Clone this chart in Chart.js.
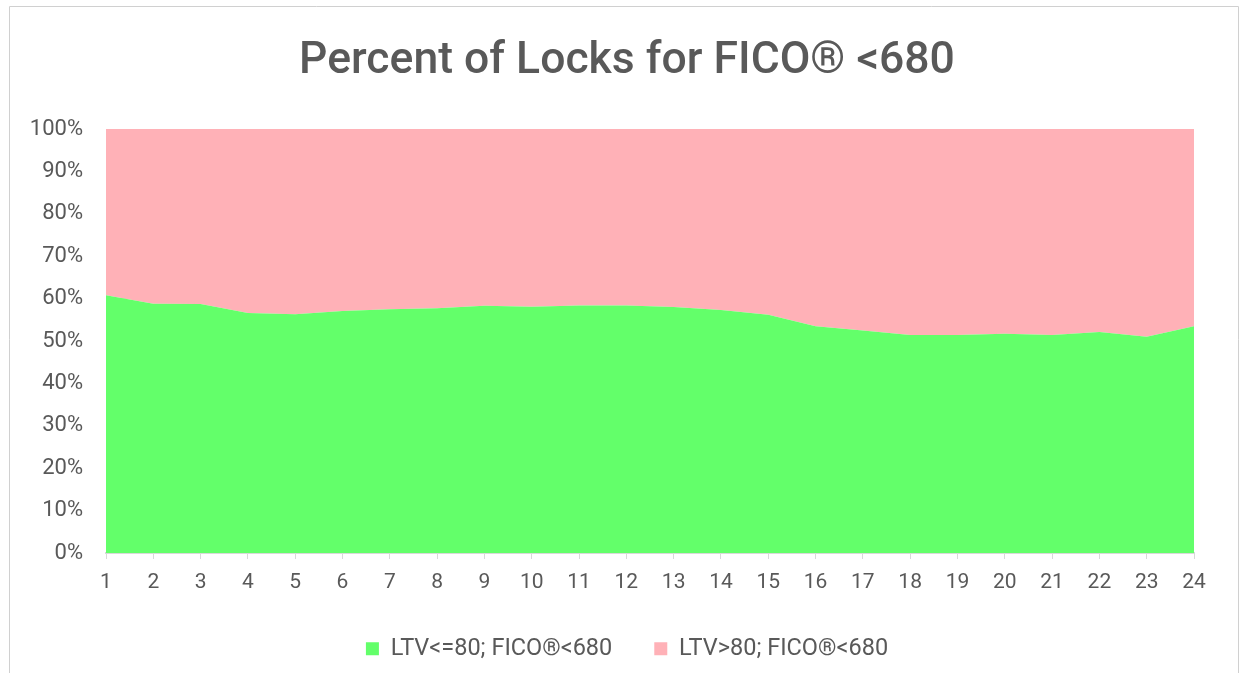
<!DOCTYPE html>
<html>
<head>
<meta charset="utf-8">
<script src="https://cdn.jsdelivr.net/npm/chart.js@4"></script>
<style>
html,body{margin:0;padding:0;background:#fff;}
#wrap{position:relative;width:1241px;height:673px;}
</style>
</head>
<body>
<div id="wrap"><canvas id="c" width="1241" height="673"></canvas></div>
<script>
const titleText = 'Percent of Locks for FICO® <680';
const categories = ['1','2','3','4','5','6','7','8','9','10','11','12','13','14','15','16','17','18','19','20','21','22','23','24'];
const seriesNames = ['LTV<=80; FICO®<680', 'LTV>80; FICO®<680'];
const ltvLow = [60.8, 58.8, 58.7, 56.6, 56.3, 57.1, 57.5, 57.7, 58.3, 58.1, 58.4, 58.4, 58.0, 57.3, 56.2, 53.5, 52.5, 51.4, 51.4, 51.7, 51.4, 52.1, 51.0, 53.5];
const ltvHigh = [39.2, 41.2, 41.3, 43.4, 43.7, 42.9, 42.5, 42.3, 41.7, 41.9, 41.6, 41.6, 42.0, 42.7, 43.8, 46.5, 47.5, 48.6, 48.6, 48.3, 48.6, 47.9, 49.0, 46.5];
const yTicks = [0,10,20,30,40,50,60,70,80,90,100];

const GREEN = '#63FF6A';
const PINK = '#FFB1B7';
const TEXT = '#595959';
const GRID = '#d9d9d9';

const borderPlugin = {
  id: 'frameBorder',
  beforeInit(chart) {
    const lg = chart.legend;
    if (lg && !lg._patched) {
      const orig = lg.fit;
      lg.fit = function() { orig.call(this); this.height = 78; };
      lg._patched = true;
    }
  },
  afterDraw(chart) {
    const ctx = chart.ctx;
    ctx.save();
    ctx.strokeStyle = '#d0d0d0';
    ctx.lineWidth = 1;
    ctx.beginPath();
    ctx.moveTo(9.5, 673);
    ctx.lineTo(9.5, 6.5);
    ctx.lineTo(1238.5, 6.5);
    ctx.lineTo(1238.5, 673);
    ctx.stroke();
    ctx.restore();
  }
};

new Chart(document.getElementById('c'), {
  type: 'line',
  data: {
    labels: categories,
    datasets: [
      { label: seriesNames[0], data: ltvLow, backgroundColor: GREEN, borderColor: GREEN, borderWidth: 0, fill: 'origin', pointRadius: 0, tension: 0 },
      { label: seriesNames[1], data: ltvHigh, backgroundColor: PINK, borderColor: PINK, borderWidth: 0, fill: '-1', pointRadius: 0, tension: 0 }
    ]
  },
  options: {
    responsive: false,
    animation: false,
    events: [],
    layout: { padding: { left: 60, right: 47, top: 0, bottom: 0 } },
    plugins: {
      title: {
        display: true,
        text: titleText,
        color: TEXT,
        font: { family: 'Roboto', size: 44.5, weight: 500, lineHeight: 1.2 },
        padding: { top: 35, bottom: 40.6 }
      },
      legend: {
        display: true,
        position: 'bottom',
        labels: {
          color: TEXT,
          font: { family: 'Roboto', size: 23.5 },
          boxWidth: 13,
          boxHeight: 13,
          padding: 42
        }
      },
      tooltip: { enabled: false },
      filler: { propagate: false }
    },
    scales: {
      x: {
        type: 'category',
        offset: false,
        grid: { display: true, drawOnChartArea: false, drawTicks: true, tickLength: 6, color: GRID },
        border: { display: true, color: GRID, width: 2 },
        ticks: { color: TEXT, font: { family: 'Roboto', size: 21 }, padding: 11, maxRotation: 0, autoSkip: false },
        afterFit(scale) { scale.height = 42; }
      },
      y: {
        stacked: true,
        min: 0,
        max: 100,
        afterBuildTicks(scale) { scale.ticks = yTicks.map(v => ({ value: v })); },
        grid: { display: true, drawTicks: false, color: GRID },
        border: { display: false },
        ticks: { color: TEXT, font: { family: 'Roboto', size: 22 }, padding: 23, callback: v => v + '%' },
        afterFit(scale) {
          scale.width = 46;
          scale._computeLabelArea = function() { return undefined; };
        }
      }
    }
  },
  plugins: [borderPlugin]
});
</script>
</body>
</html>
